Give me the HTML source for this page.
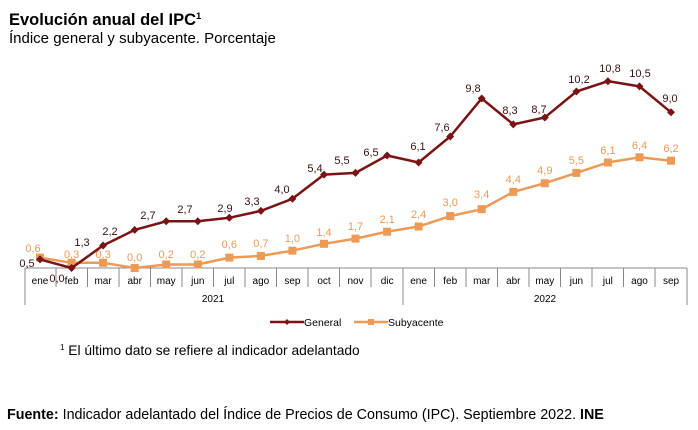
<!DOCTYPE html>
<html><head><meta charset="utf-8"><style>
body{margin:0;background:#fff;width:698px;height:430px;overflow:hidden;font-family:"Liberation Sans",sans-serif}
svg{position:absolute;left:0;top:0}
</style></head><body>
<svg width="698" height="430" xmlns="http://www.w3.org/2000/svg" font-family="Liberation Sans, sans-serif">
<text x="9" y="25" font-size="16.5" font-weight="bold" fill="#000">Evolución anual del IPC<tspan font-size="9.5" dy="-6">1</tspan></text>
<text x="9" y="43" font-size="15" fill="#000">Índice general y subyacente. Porcentaje</text>
<g stroke="#888" stroke-width="1" fill="none">
<line x1="25" y1="268" x2="687" y2="268"/>
<line x1="25" y1="268" x2="25" y2="305"/>
<line x1="687" y1="268" x2="687" y2="305"/>
<line x1="403" y1="268" x2="403" y2="305"/>
<path d="M56 268V287M87.5 268V287M119 268V287M150.5 268V287M182 268V287M213.5 268V287M245 268V287M276.5 268V287M308 268V287M339.5 268V287M371 268V287M434.5 268V287M466 268V287M497.5 268V287M529 268V287M560.5 268V287M592 268V287M623.5 268V287M655 268V287"/>
</g>
<g font-size="10" fill="#000" text-anchor="middle">
<text x="40" y="284">ene</text><text x="71.6" y="284">feb</text><text x="103.1" y="284">mar</text><text x="134.7" y="284">abr</text><text x="166.2" y="284">may</text><text x="197.8" y="284">jun</text><text x="229.3" y="284">jul</text><text x="260.9" y="284">ago</text><text x="292.4" y="284">sep</text><text x="324" y="284">oct</text><text x="355.5" y="284">nov</text><text x="387.1" y="284">dic</text><text x="418.6" y="284">ene</text><text x="450.2" y="284">feb</text><text x="481.7" y="284">mar</text><text x="513.3" y="284">abr</text><text x="544.8" y="284">may</text><text x="576.4" y="284">jun</text><text x="607.9" y="284">jul</text><text x="639.5" y="284">ago</text><text x="671" y="284">sep</text>
<text x="213" y="302">2021</text><text x="545" y="302">2022</text>
</g>
<polyline fill="none" stroke="#ec9a55" stroke-width="2.5" points="40,257.6 71.6,262.8 103.1,262.8 134.7,268 166.2,264.5 197.8,264.5 229.3,257.6 260.9,255.9 292.4,250.7 324,243.8 355.5,238.6 387.1,231.7 418.6,226.5 450.2,216.1 481.7,209.2 513.3,191.9 544.8,183.2 576.4,172.9 607.9,162.5 639.5,157.3 671,160.7"/>
<g fill="#ec9a55">
<rect x="36" y="253.6" width="8" height="8"/><rect x="67.6" y="258.8" width="8" height="8"/><rect x="99.1" y="258.8" width="8" height="8"/><rect x="130.7" y="264" width="8" height="8"/><rect x="162.2" y="260.5" width="8" height="8"/><rect x="193.8" y="260.5" width="8" height="8"/><rect x="225.3" y="253.6" width="8" height="8"/><rect x="256.9" y="251.9" width="8" height="8"/><rect x="288.4" y="246.7" width="8" height="8"/><rect x="320" y="239.8" width="8" height="8"/><rect x="351.5" y="234.6" width="8" height="8"/><rect x="383.1" y="227.7" width="8" height="8"/><rect x="414.6" y="222.5" width="8" height="8"/><rect x="446.2" y="212.1" width="8" height="8"/><rect x="477.7" y="205.2" width="8" height="8"/><rect x="509.3" y="187.9" width="8" height="8"/><rect x="540.8" y="179.2" width="8" height="8"/><rect x="572.4" y="168.9" width="8" height="8"/><rect x="603.9" y="158.5" width="8" height="8"/><rect x="635.5" y="153.3" width="8" height="8"/><rect x="667" y="156.7" width="8" height="8"/>
</g>
<g font-size="11" fill="#ec9a55" text-anchor="middle">
<text x="33" y="252">0,6</text><text x="71.6" y="258">0,3</text><text x="103.1" y="258">0,3</text><text x="134.7" y="261">0,0</text><text x="166.2" y="258">0,2</text><text x="197.8" y="258">0,2</text><text x="229.3" y="248">0,6</text><text x="260.9" y="247">0,7</text><text x="292.4" y="242">1,0</text><text x="324" y="236">1,4</text><text x="355.5" y="230">1,7</text><text x="387.1" y="223">2,1</text><text x="418.6" y="218">2,4</text><text x="450.2" y="206">3,0</text><text x="481.7" y="198">3,4</text><text x="513.3" y="183">4,4</text><text x="544.8" y="174">4,9</text><text x="576.4" y="164">5,5</text><text x="607.9" y="154">6,1</text><text x="639.5" y="149">6,4</text><text x="671" y="152">6,2</text>
</g>
<polyline fill="none" stroke="#7a1414" stroke-width="2.5" points="40,259.4 71.6,268 103.1,245.5 134.7,229.9 166.2,221.3 197.8,221.3 229.3,217.8 260.9,210.9 292.4,198.8 324,174.6 355.5,172.9 387.1,155.5 418.6,162.5 450.2,136.5 481.7,98.5 513.3,124.4 544.8,117.5 576.4,91.5 607.9,81.2 639.5,86.4 671,112.3"/>
<g fill="#7a1414">
<path d="M40 255.4l4 4-4 4-4-4zM71.6 264l4 4-4 4-4-4zM103.1 241.5l4 4-4 4-4-4zM134.7 225.9l4 4-4 4-4-4zM166.2 217.3l4 4-4 4-4-4zM197.8 217.3l4 4-4 4-4-4zM229.3 213.8l4 4-4 4-4-4zM260.9 206.9l4 4-4 4-4-4zM292.4 194.8l4 4-4 4-4-4zM324 170.6l4 4-4 4-4-4zM355.5 168.9l4 4-4 4-4-4zM387.1 151.5l4 4-4 4-4-4zM418.6 158.5l4 4-4 4-4-4zM450.2 132.5l4 4-4 4-4-4zM481.7 94.5l4 4-4 4-4-4zM513.3 120.4l4 4-4 4-4-4zM544.8 113.5l4 4-4 4-4-4zM576.4 87.5l4 4-4 4-4-4zM607.9 77.2l4 4-4 4-4-4zM639.5 82.4l4 4-4 4-4-4zM671 108.3l4 4-4 4-4-4z"/>
</g>
<g font-size="11" fill="#3a1010" text-anchor="middle">
<text x="27" y="267">0,5</text><text x="57" y="282">0,0</text><text x="82" y="246">1,3</text><text x="110" y="235">2,2</text><text x="148" y="219">2,7</text><text x="185" y="213">2,7</text><text x="225" y="212">2,9</text><text x="252" y="205">3,3</text><text x="282" y="193">4,0</text><text x="315" y="172">5,4</text><text x="342" y="164">5,5</text><text x="371" y="156">6,5</text><text x="418" y="150">6,1</text><text x="442" y="131">7,6</text><text x="473" y="92">9,8</text><text x="510" y="114">8,3</text><text x="539" y="113">8,7</text><text x="579" y="83">10,2</text><text x="610" y="72">10,8</text><text x="640" y="77">10,5</text><text x="670" y="102">9,0</text>
</g>
<line x1="270" y1="322" x2="304" y2="322" stroke="#7a1414" stroke-width="2.5"/>
<path d="M287 319l3 3-3 3-3-3z" fill="#7a1414"/>
<text x="304" y="326" font-size="10.5" fill="#000">General</text>
<line x1="354" y1="322" x2="388" y2="322" stroke="#ec9a55" stroke-width="2.5"/>
<rect x="368" y="319" width="6" height="6" fill="#ec9a55"/>
<text x="388" y="326" font-size="10.5" fill="#000">Subyacente</text>
<text x="60" y="355" font-size="13.8" fill="#000"><tspan font-size="8" dy="-5">1</tspan><tspan dy="5"> El último dato se refiere al indicador adelantado</tspan></text>
<text x="7" y="419" font-size="14.3" fill="#000"><tspan font-weight="bold">Fuente:</tspan> Indicador adelantado del Índice de Precios de Consumo (IPC). Septiembre 2022. <tspan font-weight="bold">INE</tspan></text>
</svg>
</body></html>
